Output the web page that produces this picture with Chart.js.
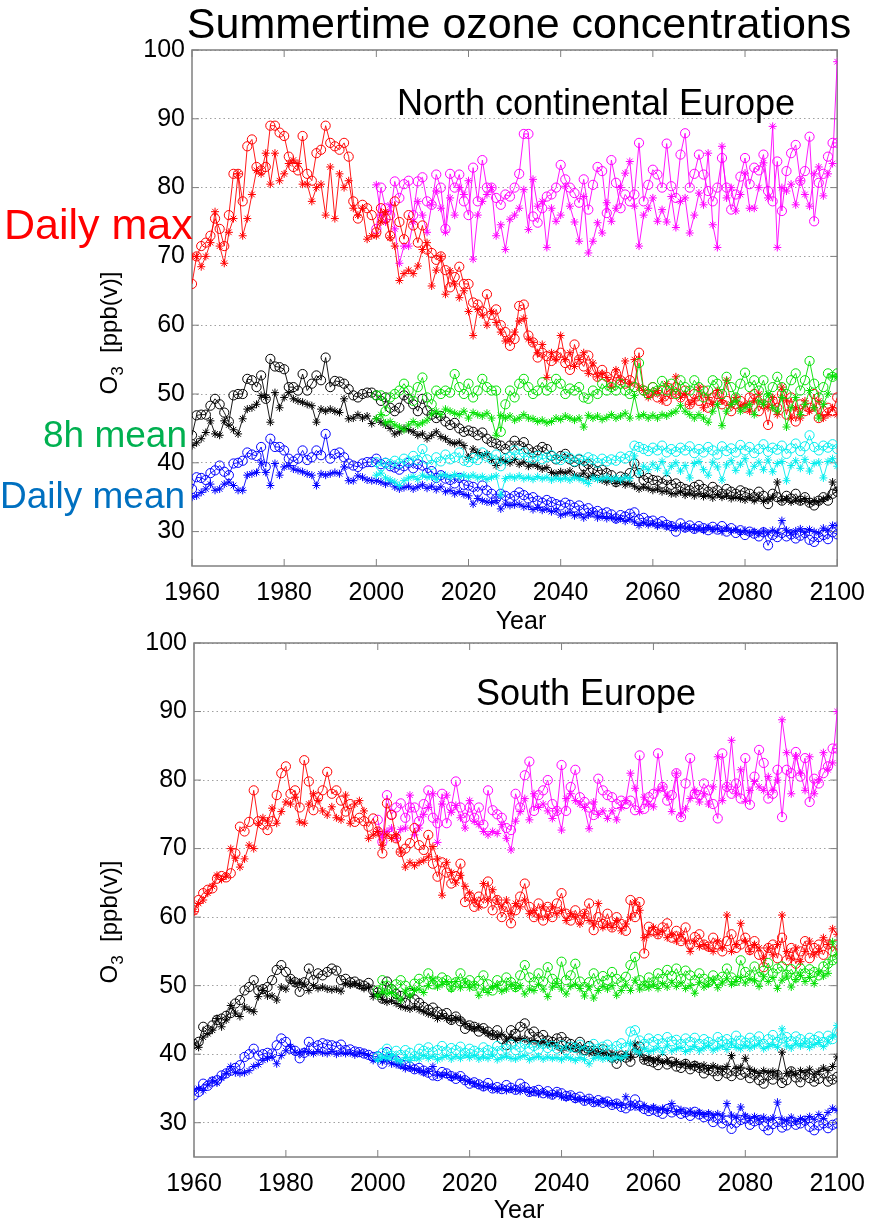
<!DOCTYPE html>
<html>
<head>
<meta charset="utf-8">
<script src="https://cdn.jsdelivr.net/npm/chart.js@4.4.1/dist/chart.umd.min.js"></script>
<style>
  html, body { margin: 0; padding: 0; background: #fff; }
  #wrap { position: relative; width: 877px; height: 1223px; }
  canvas { position: absolute; left: 0; }
  #north { top: 0; z-index: 2; }
  #south { top: 620px; z-index: 1; }
</style>
</head>
<body>
<div id="wrap">
  <canvas id="north" width="877" height="640"></canvas>
  <canvas id="south" width="877" height="603"></canvas>
</div>
<script>
// années de départ : contrôle 1960-2100, scénario 2000-2100
const CTRL_START = 1960;
const SCEN_START = 2000;
const xTicks = [1960, 1980, 2000, 2020, 2040, 2060, 2080, 2100];
const yTicks = [30, 40, 50, 60, 70, 80, 90, 100];

// ---- North continental Europe ----
const redCircN = [
  66, 70, 71.5, 72, 73, 75.5, 74, 71.5, 76, 82,
  82, 78, 86, 87, 83, 82.5, 83, 89, 89, 88,
  87.5, 84.5, 83, 82.5, 87.5, 82, 81, 85, 85.5, 89,
  86.5, 86, 85.5, 86.5, 84.5, 78, 75.5, 77.5, 77, 76,
  73.5, 77, 75.5, 73, 78, 75, 72.5, 76, 74.5, 72,
  74.5, 71, 70.5, 69.5, 70, 68, 65.5, 67, 68.5, 66,
  66, 63.3, 63, 62, 64.5, 61.5, 62.3, 60, 59, 57,
  58, 62.8, 63, 58.5, 57.5, 55.3, 56, 55.5, 54.8, 55.5,
  56, 54.5, 53.5, 57.2, 55, 54, 55.6, 53.5, 52.5, 53.5,
  52.5, 51.5, 53, 52, 51.5, 52, 51, 56, 50.5, 50,
  51, 49.5, 50.5, 49, 50, 51, 49.5, 50.5, 48.5, 50,
  49, 50.5, 48, 49.5, 50, 48.5, 49, 47.5, 48.5, 49,
  48, 49.5, 50, 47.5, 48.5, 45.5, 49, 48, 50, 47,
  49.5, 46, 48.5, 47.5, 48, 50, 46.5, 47.5, 48, 47.5,
  49.5
];
const redStarN = [
  70, 70, 68.5, 70, 72, 76.5, 71.5, 69, 73.5, 75.5,
  82, 73, 75.5, 79, 82.5, 82, 85, 80.5, 85, 81,
  82, 83.5, 84, 83.5, 80.5, 80.5, 78, 80, 80.5, 76,
  83, 75.5, 82, 80, 81, 77, 76, 77, 72.5, 73,
  73, 75, 76.5, 72.7, 71.5, 66.5, 67.5, 68, 67.5, 68.6,
  71, 72, 65.7, 68, 70, 64.5, 67.9, 66, 64, 65,
  62, 58.5, 62.3, 61.5, 60, 62, 60.4, 59, 57.7, 58,
  59, 60.6, 61, 58, 57.5, 56, 57.2, 52.4, 56, 55,
  58.5, 55, 56, 54, 55, 56, 53, 54.5, 52.5, 53,
  52.4, 51, 53.5, 52, 54.8, 51.5, 55, 51, 50.5, 49.5,
  50, 50.5, 49, 51.5, 50, 52.5, 49.5, 50, 48.5, 49,
  51, 48, 49.5, 48.5, 50.5, 49, 52, 48.5, 49.5, 48,
  48.5, 47.5, 49, 50, 48.5, 48, 49.5, 47, 51, 49,
  46.5, 48, 46.5, 49, 47.5, 48, 49, 46.5, 47, 48,
  47
];
const magCircN = [
  74, 80, 77, 76, 80.9, 78.5, 80.5, 81, 76, 80.9,
  81.5, 78, 77.5, 81.9, 80, 74, 82, 80, 81.9, 78,
  76, 82.9, 78, 84, 80, 80, 78.5, 77.5, 79, 78.7,
  80, 82, 87.8, 87.8, 75.8, 74.9, 77, 78.7, 79, 80,
  83.3, 81.2, 80, 79.2, 77.8, 81.2, 76.8, 80.4, 83, 82.4,
  76.3, 84, 80.7, 77, 79, 78, 79, 86.5, 78, 80.4,
  82.6, 81.9, 80, 86.4, 80.2, 78.5, 84.8, 87.9, 80, 82,
  84.8, 81.9, 79.5, 78, 80, 84.3, 80, 76.8, 79, 81.6,
  84.3, 80.5, 82.9, 82.5, 84.8, 79.5, 78, 83.8, 76.6, 82.4,
  85, 86.2, 81, 82.4, 87.4, 75.1, 80.7, 82, 84.5, 86.5,
  86.5
];
const magStarN = [
  80.4, 76, 75, 77.5, 74, 69, 71.5, 71.5, 75, 78,
  76, 73.5, 77.5, 79.5, 77, 73.5, 78.5, 76, 80, 79,
  81, 69.6, 76, 78, 79, 80, 73, 74.6, 71, 75.4,
  76, 77, 79.7, 73.9, 81.2, 77.3, 78, 71.3, 77, 75.1,
  76, 80.2, 77.3, 75, 72.2, 78.7, 70.5, 72.2, 74.9, 73.4,
  77.8, 75.1, 77, 80, 82.1, 83.8, 77.3, 71.5, 76, 77,
  78.5, 75.1, 76.8, 75, 78.7, 74.2, 78, 78.5, 73.4, 76,
  79.2, 77.5, 85, 74.6, 71.3, 86, 78.5, 80, 76.6, 79,
  82.1, 77, 77, 80, 83.6, 78.5, 88.9, 71.3, 80, 79.5,
  80.5, 77.5, 81, 79, 77.3, 82, 83, 78.8, 82, 83.5,
  98.3
];
const blackCircN = [
  44, 46.9, 47, 47, 48.3, 49.3, 48.5, 47.3, 46, 49.8,
  50, 50, 52.2, 52, 51, 52.7, 49.3, 55.1, 54, 53.9,
  53.6, 51, 51, 50.5, 52.9, 50.5, 51.5, 52.7, 52, 55.3,
  51, 51.9, 51.8, 51.5, 50.7, 49.8, 49.5, 50, 50.2, 50.2,
  49.8, 49, 49.5, 48, 47.5, 48, 49.8, 49.3, 48.5, 47.5,
  49.3, 47.6, 47, 46.5, 46.8, 46, 45.5, 45.8, 45, 44.5,
  44.7, 44.5, 44, 44.4, 43.5, 43, 42.8, 42.5, 42, 42.5,
  43.2, 42.5, 43, 42, 41.5, 41.8, 42.3, 42, 41, 40.5,
  41, 41.3, 40.5, 40.1, 40.5, 39.5, 39.8, 39.1, 38.8, 39,
  38.5, 38.2, 37.2, 38, 37.8, 38.5, 39.9, 38.5, 37.5, 37.8,
  37.5, 37.4, 37, 37.5, 36.8, 37, 36.5, 36.2, 36, 36.5,
  36.8, 36.2, 35.8, 36.5, 36, 35.5, 36.2, 35.8, 35.5, 36,
  35.7, 35.5, 35, 35.8, 35.2, 34, 35.5, 35, 34.5, 35.2,
  34.8, 35.5, 34.5, 35, 34.2, 33.8, 34.5, 35, 34.5, 35.5,
  35.8
];
const blackStarN = [
  42.5, 42.9, 43.5, 44.4, 46.1, 44.2, 44, 46.1, 45.5, 44.8,
  44.2, 46.4, 47.8, 48, 48.5, 49.8, 49.5, 45.9, 50.2, 48,
  49.5, 50.2, 49.3, 49, 48.8, 48.5, 48.3, 45.9, 47.8, 47.5,
  47.8, 47.5, 47.3, 49.3, 46.4, 46.5, 47, 46.5, 46.8, 45.7,
  46.4, 45.9, 45.5, 45, 44.2, 44.5, 45, 44.8, 44.5, 44,
  44.2, 43.5, 44, 44.5, 43.8, 43.5, 43, 42.8, 43, 42.5,
  40.8, 42, 41.5, 41, 41.3, 40.5, 39.6, 40.5, 40.2, 40,
  40.5, 39.8, 40.1, 39.5, 39.8, 39.5, 39.1, 39.3, 38.6, 38.4,
  38.7, 38.5, 38.8, 38.2, 38, 38.5, 37.9, 38.2, 37.7, 37.5,
  37.2, 37.5, 37, 37.3, 36.8, 37, 36.6, 36.2, 36.5, 36.3,
  36, 36.2, 35.8, 35.9, 35.5, 35.5, 35.8, 35.3, 35.6, 35.2,
  35.5, 35.1, 35.3, 34.9, 35.4, 35, 35.2, 34.8, 35, 34.8,
  34.6, 35, 34.5, 34.9, 34.4, 34.7, 35, 37.2, 34.5, 34.8,
  34.3, 34.6, 34.4, 34.8, 34.2, 34.5, 34.3, 34.7, 35, 37.2,
  36
];
const greenCircN = [
  49.8, 49.8, 47.5, 49.5, 50, 50.5, 51.5, 50.5, 49, 51,
  52.4, 49.5, 48.5, 50.5, 50, 50.5, 50.2, 52.9, 51, 50,
  51.5, 49.5, 50.5, 52.2, 51, 50.5, 50.5, 44.5, 48.5, 50.5,
  49.5, 51.5, 52.2, 51, 50, 50.5, 51.7, 50.5, 51, 52.2,
  51.5, 50, 50.8, 50.5, 51, 49.5, 49.3, 50.5, 50, 51.5,
  50.5, 51, 50.5, 51.5, 50.5, 50, 51, 54.5, 50.5, 50,
  51, 50.5, 51.9, 50.5, 51.5, 50, 52, 51, 50.5, 52,
  51, 49.5, 50.5, 52, 51.5, 50, 52.5, 51, 49.5, 51.5,
  53.1, 51, 52, 50.5, 52, 49.5, 51, 52.5, 51, 50,
  52, 53, 50.5, 52, 54.8, 51.5, 49.5, 51, 53, 52.5,
  53
];
const greenStarN = [
  46.4, 47, 45.8, 46, 45.5, 45.2, 44.8, 45.5, 46, 45.5,
  45.8, 46.2, 47.1, 47.5, 47, 47.8, 47.5, 47.2, 47, 47.5,
  46.5, 47.3, 47, 46.8, 47.2, 46.5, 44, 46.9, 46.5, 46.8,
  46.2, 46.5, 47, 46.5, 46.4, 46, 46.2, 45.8, 46, 46.5,
  46.3, 46.8, 46.5, 46.2, 46.5, 45.2, 46.9, 46.5, 46.8, 46.3,
  46.6, 47, 46.5, 46.8, 47.2, 46.5, 49.8, 46.7, 47, 46.5,
  46.9, 46.5, 47, 46.8, 47.2, 47.5, 48.3, 47.5, 47, 46.5,
  47, 46.5, 45.9, 47.5, 48.5, 45.4, 47.5, 48.5, 49, 47.5,
  48, 48.5, 47, 49, 48.5, 50, 48, 47.5, 49.5, 45.2,
  48, 49.5, 47, 48.5, 50.5, 48, 46.5, 48.5, 50, 52.6,
  52.5
];
const blueCircN = [
  36.2, 37.9, 37.8, 37.5, 38.5, 38.9, 39.6, 38.7, 38.2, 39.9,
  40, 40.3, 41.5, 41.2, 41, 42.3, 39.4, 43.5, 42.3, 42.3,
  41.8, 40.6, 40.2, 40.6, 41.8, 40.4, 40.8, 41.8, 41.1, 44.2,
  40.6, 41.3, 41.5, 40.8, 39.9, 39.6, 39.4, 39.9, 40.1, 40.1,
  40.6, 39.8, 40, 39.5, 39.3, 39, 39.5, 40, 39.2, 39.8,
  39.6, 38.5, 38.8, 37.8, 38.2, 37.7, 37.5, 37, 37.8, 36.8,
  36.7, 36.5, 35.8, 36.7, 36, 35.5, 34.8, 35.5, 35.2, 34.8,
  35.2, 35.7, 35.3, 34.8, 35, 34.5, 34.2, 34.6, 34.3, 34,
  33.8, 34.2, 33.9, 33.5, 33.8, 33.2, 33.4, 32.8, 33, 32.6,
  32.8, 32.5, 31.9, 32.4, 32.2, 32.6, 32.8, 31.8, 32, 31.5,
  31.6, 31.2, 31.5, 31, 30.8, 30, 31.2, 30.6, 30.9, 30.4,
  30.8, 30.5, 30.2, 30.7, 30.3, 30.8, 30, 30.5, 29.8, 30.2,
  29.5, 30, 29.7, 29.3, 29.9, 28, 29.5, 29.2, 29.8, 29.3,
  29.6, 29, 29.4, 29.8, 28.8, 28.5, 29.2, 29.5, 28.9, 29.9,
  29.6
];
const blueStarN = [
  35, 35.2, 35.7, 36.2, 36.9, 36, 36.2, 36.9, 37.2, 36.7,
  36, 36, 38.2, 38.4, 38.6, 40.1, 38.6, 36.7, 39.9, 38.2,
  39.4, 39.6, 39.1, 38.9, 38.7, 38.4, 38.2, 36.7, 38.4, 38.2,
  38.4, 38.6, 38.4, 39.4, 37.4, 37.4, 38.1, 37.9, 37.5, 37.4,
  37.4, 37.2, 36.9, 37.1, 36.5, 36.2, 36.4, 36.6, 36.2, 36.5,
  36.8, 36.3, 36.6, 36.1, 36.5, 35.8, 36, 35.5, 35.8, 35.4,
  35.2, 34, 34.8, 34.5, 34.3, 34.2, 34.5, 33.3, 34, 33.8,
  33.9, 34, 33.6, 33.7, 33.2, 33.5, 33.1, 33.3, 32.9, 33,
  32.4, 32.6, 32.8, 32.3, 32.5, 32, 32.4, 32.7, 32, 32.2,
  31.9, 32.1, 31.7, 31.9, 31.5, 31.8, 31.4, 30.9, 31.3, 31,
  31.2, 30.8, 31, 30.7, 30.9, 30.5, 30.8, 30.4, 30.6, 30.3,
  30.5, 30.2, 30.6, 30.3, 30.4, 30, 30.5, 30.1, 30.3, 29.9,
  30.2, 29.8, 30, 29.7, 30.1, 29.8, 30.2, 29.9, 31.6, 30.2,
  29.8, 30.1, 30.4, 29.9, 30.3, 30, 29.8, 30.5, 30.2, 30.9,
  30.9
];
const cyanCircN = [
  40.1, 39.5, 40, 39.8, 40.3, 39.9, 40.6, 40.2, 41, 40.4,
  42, 40.5, 39.7, 40.8, 40.2, 41.2, 40.5, 40.8, 41.5, 40.3,
  40.1, 40.7, 40.4, 41.5, 40.9, 40.5, 41.2, 39.5, 40.6, 40.9,
  41.8, 41.2, 41.5, 40.8, 40.6, 41, 40.5, 40.8, 41.1, 40.6,
  40.4, 40.9, 40.7, 40.2, 40.6, 40.3, 40.8, 40.5, 40, 40.6,
  40.2, 40.5, 40.3, 40.9, 40.6, 41, 42.5, 42.3, 42, 41.7,
  42.2, 41.8, 42.5, 41.5, 42, 41.6, 42.2, 41.8, 42.4, 41.4,
  42, 41.5, 42.3, 41.8, 41.2, 42.4, 41.7, 42.1, 41.5, 42.6,
  41.8, 42.3, 41.4, 42, 42.7, 41.6, 42.2, 41.9, 42.5, 41.3,
  42.1, 42.8, 41.7, 42.4, 44, 42.3, 41.8, 42.5, 42.2, 42.7,
  42
];
const cyanStarN = [
  38.2, 38.5, 37.8, 37.5, 37.2, 36.7, 37.4, 37.8, 38, 37.6,
  38.2, 37.9, 38, 37.6, 38.2, 38.2, 37.9, 38.3, 38, 38.2,
  37.9, 38.2, 37.8, 38, 37.6, 37.9, 38.1, 35.3, 37.7, 38,
  37.8, 38.1, 37.7, 37.9, 37.6, 38, 37.7, 37.9, 37.5, 37.8,
  37.6, 37.8, 37.5, 37.9, 37.7, 37.4, 37, 37.8, 37.6, 37.7,
  37.9, 37.6, 37.8, 37.5, 37.9, 37.7, 41, 38.5, 39.5, 39,
  39.8, 39.2, 40.2, 38.5, 39.5, 40, 38.8, 39.6, 37.8, 39.9,
  40.2, 39, 38.2, 40.1, 39.4, 37.5, 39.7, 40.3, 38.9, 39.8,
  40.6, 38.5, 39.5, 40.1, 39, 40.4, 38.7, 39.9, 40.2, 37.4,
  39.6, 40.3, 39.2, 40.5, 38.8, 39.9, 40.1, 37.8, 40.2, 40.6,
  39.5
];

// ---- South Europe ----
const redCircS = [
  61, 62.5, 63.5, 64, 64.2, 65.6, 66, 65.8, 66.4, 69.3,
  73.2, 72.5, 73.9, 78.5, 74, 73.5, 72.7, 74, 77.8, 81,
  82, 78, 78.5, 76, 82.9, 79.8, 75.6, 77.5, 78.5, 81.2,
  78, 78.5, 77, 75.4, 76.5, 73.9, 74.5, 74, 73.2, 74.4,
  72.5, 69.3, 76.6, 74.9, 71.5, 69.5, 70, 70.8, 73, 70.5,
  69.8, 72, 67.8, 65.9, 68, 66.5, 64.9, 66, 67.8, 62.2,
  63, 61.5, 63, 62, 65.2, 61, 62.5, 60, 61.5, 59.1,
  61, 63, 64.9, 61.5, 60, 62, 59.5, 61.5, 60, 62,
  63.5, 60.5, 59.5, 61, 59.6, 60.5, 62, 58.1, 60, 59,
  60.5, 58.5, 60, 59, 58, 62.5, 60, 62.2, 54.7, 58.6,
  58, 57.5, 58.5, 59.1, 57, 58, 56.5, 58.5, 56, 57.1,
  57.5, 56, 55.7, 57, 56, 55, 56.5, 57.5, 55.5, 56,
  57, 55.2, 56.5, 54.5, 52.7, 55.5, 56, 54, 57, 53.7,
  55.5, 53.2, 55, 56.5, 54, 55.5, 56, 54.5, 56, 55,
  56
];
const redStarS = [
  60.8, 62, 62.5, 63.5, 64.5, 66.1, 65.5, 66, 70, 68.6,
  67.3, 68.5, 70.5, 70, 73.7, 74.5, 74, 75.9, 73.7, 75.4,
  76.8, 76.5, 77.5, 73.9, 73.7, 76.5, 78, 77, 75.5, 74.9,
  76.1, 74.5, 74.2, 77.8, 73.7, 76.5, 77, 75.5, 71.5, 72,
  72.5, 70.5, 72, 71.5, 72, 69.5, 67.3, 68, 67.5, 68,
  68.3, 68.8, 70.3, 68.5, 63.2, 68, 66.5, 65, 66.1, 64.5,
  63.5, 62.5, 61.5, 64.9, 62.5, 64, 62.5, 61.5, 62.5, 60.5,
  62, 61.5, 62.5, 60.5, 61, 60, 61.5, 60, 61.5, 60.5,
  61, 59.5, 60.5, 60, 59, 60.5, 59.5, 59, 62, 58.5,
  59, 58.5, 59.5, 58, 59, 60, 62.2, 61, 57, 57.5,
  58.5, 57.5, 58, 57, 57.5, 56.5, 57.5, 56.5, 55, 56.5,
  55.7, 56, 55.5, 55, 56.5, 55.5, 60.3, 55, 56, 59.1,
  56.5, 55, 56, 55.5, 54, 55.5, 54.5, 56, 60.3, 55,
  54, 55.5, 53.5, 55, 56.5, 54.5, 55, 57, 56, 58.3,
  57.5
];
const magCircS = [
  74.2, 71, 77.8, 75, 76, 76.6, 74.5, 76, 76, 74,
  76.5, 78.5, 74.5, 73.7, 78, 73.7, 76.1, 79.8, 76, 74.5,
  76, 74.5, 76, 73.5, 78.5, 75.6, 75, 74.5, 73, 72.7,
  78, 76, 80.7, 82.7, 75.5, 77.8, 78.5, 80, 76.5, 75.5,
  82.2, 75.5, 79, 81.5, 77.5, 76.8, 76, 74.9, 80.2, 78.5,
  77.8, 77.5, 76.5, 77, 76.5, 77, 75.6, 83.6, 75.8, 77.5,
  78, 83.9, 79, 77, 77.8, 81, 74.6, 79.5, 83.2, 78,
  77.8, 79.5, 78.5, 76.5, 74.4, 83.9, 79, 78, 79.5, 77.3,
  83.2, 76.4, 80.5, 84.4, 82.5, 77.3, 78, 81.5, 74.6, 81.5,
  81, 84.1, 80.5, 83.2, 76.8, 80.2, 79.5, 81, 82, 84.6,
  84.6
];
const magStarS = [
  72.5, 72, 72.5, 73, 71.5, 72.8, 73, 77.8, 72, 73,
  75, 76, 78, 70.9, 76.5, 77.8, 75.3, 76.3, 74.5, 73,
  77, 74, 73.5, 72.5, 72, 72.5, 72.2, 73.5, 71.5, 69.8,
  74, 75.4, 77.3, 74.2, 78, 76, 76.5, 75.5, 74.4, 75.5,
  72.7, 77.3, 78, 77, 76.5, 76, 72.9, 76.8, 75, 75.5,
  74.4, 75.5, 74.2, 76, 77, 81, 78.8, 75.4, 77.5, 76.5,
  76.1, 78.5, 79, 77.8, 75.4, 81, 74.9, 75.8, 77.3, 78.5,
  76.8, 78, 76.5, 79, 83.4, 77, 79, 85.8, 78, 81.5,
  76.9, 78.5, 79.8, 79, 78.5, 80.5, 78.5, 80, 88.8, 84,
  78, 83.5, 81, 78.5, 83.4, 78, 80, 84, 81.5, 82.5,
  90
];
const blackCircS = [
  41.5, 41.8, 44, 43.5, 44.2, 45, 45.2, 45.6, 46, 47.4,
  47.9, 49.3, 49.8, 50.8, 49.3, 49.5, 49.8, 50.8, 52.3, 53,
  52, 51, 50.5, 49.1, 50.5, 52.5, 50.8, 51.8, 51.5, 52,
  52.5, 52.2, 50.8, 51, 50.5, 50.6, 50.2, 50, 50.4, 49.3,
  49, 48.1, 50.6, 49.5, 48.8, 48.5, 47.5, 48.9, 48, 47.5,
  46.9, 46.5, 46.8, 46.2, 45.8, 46, 45, 45.5, 44.8, 43.7,
  44.2, 44, 43.3, 43.8, 43.3, 42.8, 43.5, 42.2, 41.3, 43.5,
  43, 44, 44.5, 43, 43.3, 42.5, 42.8, 42, 41.8, 42.3,
  42.5, 41.8, 41.5, 41, 41.8, 40.6, 41.2, 40.5, 40.2, 40.7,
  40, 39.5, 38.6, 39.8, 39.5, 38.9, 40.2, 41.1, 39.2, 39,
  38.8, 38.4, 39.3, 38.5, 38.9, 38.2, 38, 38.6, 37.8, 38.3,
  38, 37.2, 37.7, 37.5, 36.8, 37.6, 37.2, 36.8, 37.5, 37,
  37.3, 36.5, 37, 36.2, 35.7, 36.9, 36.3, 37, 35.8, 36.2,
  37.5, 36.6, 35.9, 37, 36.5, 36, 36.4, 37.2, 36, 36.3,
  36.7
];
const blackStarS = [
  41.5, 41, 42.5, 43, 43.5, 45.2, 44, 45, 47.1, 46,
  45.5, 46.9, 46.5, 46.2, 48.4, 49.3, 48.5, 48.5, 47.9, 49.8,
  49.5, 50.8, 50.3, 50.5, 50.2, 49.3, 50, 49.6, 49.8, 49.5,
  49.4, 49.5, 49.2, 50.3, 50.1, 50.3, 50, 49.6, 49.8, 48.4,
  48.8, 48, 47.6, 47.8, 47.4, 47, 46.8, 46.6, 46.9, 46.5,
  46.2, 45.9, 45.7, 45.2, 45.6, 45.2, 44.9, 45.3, 45, 44.5,
  44, 43.7, 44, 43.5, 43, 42.8, 42.5, 42.9, 42.2, 42.5,
  42, 42.3, 42.2, 41.8, 42, 41.5, 41.8, 41.4, 41.7, 41.2,
  40.6, 41, 40.8, 41, 40.5, 40.8, 40.2, 40.5, 40.1, 40.3,
  39.8, 40.1, 39.9, 39.6, 40, 39.6, 41.5, 40, 39.2, 39.5,
  39.1, 39.3, 38.8, 39, 38.6, 38.9, 38.5, 38.7, 38.2, 38.5,
  38.1, 38.4, 37.9, 38.3, 38, 37.8, 38.2, 39.8, 37.9, 38.1,
  39.4, 37.8, 37.5, 37.2, 37.6, 37.3, 37.5, 37.1, 40.3, 37.2,
  37.5, 37, 37.6, 37.3, 37.8, 37.1, 37.5, 38, 37.6, 38.2,
  39.6
];
const greenCircS = [
  49.3, 50.8, 50, 49.5, 50.2, 50.8, 50, 49.2, 50.3, 51,
  50.5, 51.8, 50.2, 50.6, 51.2, 50.8, 49.8, 50.5, 51.8, 50.4,
  50.8, 50, 50.7, 51.5, 50.2, 49.3, 50.8, 50, 51.2, 50.5,
  49.8, 51.5, 53, 51.2, 50.5, 51.8, 50.6, 52.7, 51, 50.4,
  53.5, 50.8, 51.5, 53.2, 50.6, 49.8, 50.5, 51.8, 50.2, 51.4,
  50.8, 52, 51, 50.5, 51.3, 53, 54.2, 50.8, 50, 51.2,
  50.5, 51.8, 51, 52.3, 51.4, 52.5, 51, 52.2, 51.5, 50.8,
  51.8, 51, 50.5, 51.5, 50.8, 51.3, 52.5, 51.2, 50.7, 53.7,
  52, 51.5, 52.8, 51.3, 52.2, 53.3, 51.8, 52.5, 52.8, 51.6,
  52.4, 51.2, 52.5, 51.8, 52.4, 52, 51.5, 52.8, 53.2, 53.7,
  54
];
const greenStarS = [
  48.5, 49.2, 48.8, 49, 48.5, 47.9, 49.2, 48.5, 49.3, 49.5,
  49, 50, 51, 49.8, 50.2, 50.6, 49.5, 50.6, 49.7, 50.4,
  49.7, 50.1, 48.6, 49.5, 49, 49.8, 50, 49.2, 49.5, 50.2,
  49.6, 50, 48.8, 49.5, 49.3, 50.2, 49.5, 48.4, 49.8, 50.3,
  49.5, 48.8, 49.9, 50.2, 49.6, 48.5, 49.8, 48.2, 49.3, 49.9,
  49.5, 50, 48.6, 49.3, 50.1, 49.3, 50.8, 49.5, 50.1, 49.7,
  50.2, 49.6, 50.3, 49.8, 50.5, 49.9, 50.4, 49.6, 50, 48.9,
  50.5, 49.8, 50.2, 50.8, 49.7, 50.4, 51, 50.2, 50.6, 51.2,
  50.4, 51, 50.7, 49.9, 51.3, 50.6, 51.2, 49.6, 50.8, 51.4,
  49.8, 50.9, 51.5, 50.6, 51.2, 50.3, 52, 51.4, 51.8, 56.4,
  54.5
];
const blueCircS = [
  34, 34.5, 35.7, 35.4, 36, 36.2, 36.9, 37.2, 37.6, 38,
  38.4, 39.6, 40, 40.8, 39.8, 40, 40.2, 40.1, 41.3, 42.3,
  41.8, 40.8, 40.5, 39.4, 40.2, 41.8, 41, 41.3, 41.6, 41.4,
  41.3, 41.1, 41.4, 40.6, 40.7, 40.4, 40.3, 40.1, 39.9, 39.6,
  39.7, 38.6, 40.3, 39.4, 39.1, 38.6, 38.4, 38.2, 37.8, 38,
  37.6, 37.3, 36.9, 36.8, 37.4, 37.2, 36.8, 36.4, 36.8, 36.2,
  35.7, 35.9, 35.6, 35.3, 35.8, 35, 35.2, 34.9, 35.5, 35.1,
  34.8, 35.7, 35.2, 34.5, 34.6, 34.8, 34.3, 34.6, 34.1, 34.5,
  34.3, 33.9, 34, 33.6, 33.8, 33.2, 33.5, 33, 33.3, 32.9,
  33.1, 32.6, 32.8, 32.3, 32.1, 32.5, 33.4, 32.5, 32, 31.7,
  31.9, 31.6, 31.3, 32, 31.5, 31.8, 31.3, 31.5, 31, 31.6,
  31.2, 30.8, 31, 30.1, 30.6, 29.9, 30.3, 29.1, 30, 30.4,
  30.6, 29.7, 30.2, 30.4, 29.5, 28.9, 29.8, 30.1, 29.3, 29.6,
  30.2, 29.7, 29.9, 30.3, 29.4, 28.9, 29.6, 29.9, 29.2, 29.7,
  29.9
];
const blueStarS = [
  34.8, 35, 34.7, 35.5, 36.2, 35.8, 36.5, 37.2, 38.2, 37.3,
  37.2, 37.3, 37.6, 38.2, 38.5, 39.1, 39.4, 39.6, 38.6, 39.8,
  40.5, 41.1, 40.3, 40.2, 40.4, 40.3, 40.1, 40.4, 40.2, 40.1,
  40.4, 40, 40.2, 40.1, 40.2, 39.9, 40.2, 40.1, 39.8, 39.1,
  39.2, 38.9, 39.1, 38.6, 38.5, 38.3, 37.9, 38, 37.8, 37.6,
  37.3, 37.5, 38.2, 37, 36.9, 37.1, 36.6, 36.8, 36.5, 36.2,
  36, 35.7, 35.5, 35.2, 35.3, 35, 34.8, 35, 34.7, 34.9,
  34.8, 34.6, 34.9, 34.4, 34.6, 34.2, 34.5, 34.1, 34, 34.3,
  33.8, 33.6, 33.9, 33.4, 33.5, 33.2, 33.4, 33, 32.9, 33.2,
  32.9, 32.7, 32.8, 32.5, 33.8, 32.6, 32.3, 32.2, 32.5, 32,
  32.3, 31.9, 32.1, 31.8, 32.8, 31.6, 31.9, 31.4, 31.7, 31.3,
  31.5, 31.2, 31.4, 31.1, 31.3, 31, 32.8, 31.1, 30.8, 32.3,
  31, 30.6, 30.9, 30.5, 30.8, 30.4, 30.7, 33, 30.5, 30.3,
  30.8, 30.2, 30.6, 30.4, 30.9, 30.5, 31.2, 30.6, 31.5, 32.1,
  31.8
];
const cyanCircS = [
  39.6, 40.2, 40.8, 39.8, 40.5, 39.9, 40.6, 40.2, 39.7, 40.8,
  40.5, 41, 40.3, 40.6, 41.2, 40.4, 40.9, 40.6, 41.1, 40.2,
  40.8, 40.5, 40.2, 41, 40.6, 40.3, 41.2, 40.5, 40.8, 41.4,
  40.6, 41, 41.5, 40.8, 41.2, 40.7, 41.5, 40.9, 41.2, 40.8,
  41.3, 40.6, 41.1, 40.9, 41.4, 40.5, 41, 41.5, 40.8, 41.1,
  41.4, 40.7, 41.2, 41.6, 41, 43.3, 43.5, 42, 41.5, 42.3,
  41.8, 42.2, 41.6, 42.5, 41.9, 42.1, 41.5, 42.3, 41.8, 42.4,
  41.5, 42.2, 41.8, 41.4, 42.5, 41.9, 42.2, 41.6, 42.7, 42,
  41.7, 42.4, 41.9, 42.6, 41.5, 42.2, 42.8, 41.8, 42.3, 42.5,
  41.9, 42.6, 42.2, 41.7, 42.4, 42.1, 42.6, 41.8, 42.7, 42.2,
  43.3
];
const cyanStarS = [
  39.2, 39.6, 39.4, 39.8, 39.2, 38.9, 39.5, 39.1, 39.6, 39.3,
  39.8, 39.4, 39.7, 39.2, 39.5, 39.8, 39.3, 39.7, 39.4, 39.9,
  39.5, 39.8, 39.3, 39.6, 39.4, 39.9, 39.2, 39.5, 39.7, 39.4,
  39.3, 39.6, 39.8, 39.2, 39.5, 39.7, 39.3, 39.6, 39.4, 39.5,
  39.2, 39.6, 39.4, 39.1, 39.5, 39.2, 38.6, 39.4, 39.6, 39.3,
  39.5, 39.2, 39.6, 39.4, 39.8, 41.6, 40.5, 40.2, 40.8, 40.4,
  40.6, 40.9, 40.3, 41.2, 40.5, 40.8, 41, 40.4, 40.7, 41.1,
  40.5, 40.9, 41.3, 40.6, 40.9, 41.2, 40.7, 41.5, 41, 40.8,
  41.3, 40.9, 41.2, 41.5, 40.8, 41.1, 41.4, 41, 43.7, 41.2,
  40.9, 41.5, 41.2, 41.6, 41, 41.4, 41.7, 41.1, 41.8, 42.5,
  44.2
];

const COL = {
  red: '#ff0000', magenta: '#ff00ff', black: '#000000',
  green: '#00e000', blue: '#0000ff', cyan: '#00eeee'
};

Chart.defaults.font.family = "'Liberation Sans', Arial, Helvetica, sans-serif";
Chart.defaults.color = '#000';

function series(vals, start, color, marker) {
  return {
    data: vals.map((v, i) => ({ x: start + i, y: v })),
    borderColor: color,
    borderWidth: 0.9,
    pointStyle: marker,
    pointRadius: marker === 'circle' ? 4.6 : 4,
    pointBorderColor: color,
    pointBackgroundColor: 'rgba(0,0,0,0)',
    pointBorderWidth: 1,
    tension: 0,
    fill: false
  };
}

// le premier jeu est dessiné au-dessus
function buildSets(p) {
  return [
    series(p.cyanS, SCEN_START, COL.cyan, 'star'),
    series(p.cyanC, SCEN_START, COL.cyan, 'circle'),
    series(p.greenS, SCEN_START, COL.green, 'star'),
    series(p.greenC, SCEN_START, COL.green, 'circle'),
    series(p.redS, CTRL_START, COL.red, 'star'),
    series(p.redC, CTRL_START, COL.red, 'circle'),
    series(p.magS, SCEN_START, COL.magenta, 'star'),
    series(p.magC, SCEN_START, COL.magenta, 'circle'),
    series(p.blueS, CTRL_START, COL.blue, 'star'),
    series(p.blueC, CTRL_START, COL.blue, 'circle'),
    series(p.blackS, CTRL_START, COL.black, 'star'),
    series(p.blackC, CTRL_START, COL.black, 'circle')
  ];
}

// cadre gris + petites graduations vers l'intérieur (style MATLAB)
const frame = {
  id: 'frame',
  beforeDatasetsDraw(chart) {
    const { ctx, chartArea: a, scales: { x, y } } = chart;
    ctx.save();
    ctx.strokeStyle = '#808080';
    ctx.lineWidth = 1.5;
    ctx.strokeRect(a.left, a.top, a.right - a.left, a.bottom - a.top);
    ctx.lineWidth = 1;
    ctx.beginPath();
    xTicks.forEach(v => {
      const px = x.getPixelForValue(v);
      ctx.moveTo(px, a.bottom); ctx.lineTo(px, a.bottom - 7);
      ctx.moveTo(px, a.top); ctx.lineTo(px, a.top + 7);
    });
    yTicks.forEach(v => {
      const py = y.getPixelForValue(v);
      ctx.moveTo(a.left, py); ctx.lineTo(a.left + 7, py);
      ctx.moveTo(a.right, py); ctx.lineTo(a.right - 7, py);
    });
    ctx.stroke();
    ctx.restore();
  }
};

// textes : titres, étiquettes colorées, titre de l'axe y avec indice
const texts = {
  id: 'texts',
  afterDraw(chart, args, opts) {
    const ctx = chart.ctx;
    const fam = Chart.defaults.font.family;
    ctx.save();
    (opts.items || []).forEach(t => {
      ctx.font = t.size + 'px ' + fam;
      ctx.fillStyle = t.color || '#000';
      ctx.textAlign = t.align || 'center';
      ctx.textBaseline = 'alphabetic';
      ctx.fillText(t.text, t.x, t.y);
    });
    if (opts.yTitle) {
      const { x, y } = opts.yTitle;
      ctx.translate(x, y);
      ctx.rotate(-Math.PI / 2);
      ctx.textAlign = 'left';
      ctx.textBaseline = 'middle';
      const big = '24px ' + fam, small = '17px ' + fam;
      ctx.font = big; const wO = ctx.measureText('O').width;
      ctx.font = small; const w3 = ctx.measureText('3').width;
      ctx.font = big; const wR = ctx.measureText('  [ppb(v)]').width;
      let cx = -(wO + w3 + wR) / 2;
      ctx.fillStyle = '#000';
      ctx.font = big; ctx.fillText('O', cx, 0); cx += wO;
      ctx.font = small; ctx.fillText('3', cx, 8); cx += w3;
      ctx.font = big; ctx.fillText('  [ppb(v)]', cx, 0);
    }
    ctx.restore();
  }
};

function makeChart(id, p, geo, items, yTitle) {
  return new Chart(document.getElementById(id), {
    type: 'line',
    data: { datasets: buildSets(p) },
    plugins: [frame, texts],
    options: {
      responsive: false,
      animation: false,
      devicePixelRatio: 1,
      layout: { padding: { top: geo.top, right: geo.right, left: 0, bottom: 0 } },
      plugins: {
        legend: { display: false },
        tooltip: { enabled: false },
        texts: { items: items, yTitle: yTitle }
      },
      scales: {
        x: {
          type: 'linear',
          min: 1960, max: 2100,
          grid: { display: false, drawTicks: false },
          border: { display: false },
          afterBuildTicks: s => { s.ticks = xTicks.map(v => ({ value: v })); },
          afterFit: s => { s.height = geo.xh; },
          ticks: { font: { size: 25 }, padding: 12, maxRotation: 0, callback: v => String(v) }
        },
        y: {
          type: 'linear',
          min: 25, max: 100,
          grid: { color: '#a0a0a0', lineWidth: 1, drawTicks: false },
          border: { display: false, dash: [1.5, 3] },
          afterBuildTicks: s => { s.ticks = yTicks.map(v => ({ value: v })); },
          afterFit: s => { s.width = geo.yw; },
          ticks: { font: { size: 25 }, padding: 7, callback: v => String(v) }
        }
      }
    }
  });
}

makeChart('north', {
  redC: redCircN, redS: redStarN, magC: magCircN, magS: magStarN,
  blackC: blackCircN, blackS: blackStarN, greenC: greenCircN, greenS: greenStarN,
  blueC: blueCircN, blueS: blueStarN, cyanC: cyanCircN, cyanS: cyanStarN
}, { top: 50, right: 29, xh: 74, yw: 192 }, [
  { text: 'Summertime ozone concentrations', x: 519, y: 38, size: 43 },
  { text: 'North continental Europe', x: 596, y: 115, size: 36 },
  { text: 'Daily max', x: 4, y: 239, size: 43, color: '#ff0000', align: 'left' },
  { text: '8h mean', x: 187, y: 447, size: 37, color: '#00b050', align: 'right' },
  { text: 'Daily mean', x: 0, y: 508, size: 37, color: '#0070c0', align: 'left' },
  { text: 'Year', x: 521, y: 629, size: 25 }
], { x: 110, y: 333 });

makeChart('south', {
  redC: redCircS, redS: redStarS, magC: magCircS, magS: magStarS,
  blackC: blackCircS, blackS: blackStarS, greenC: greenCircS, greenS: greenStarS,
  blueC: blueCircS, blueS: blueStarS, cyanC: cyanCircS, cyanS: cyanStarS
}, { top: 23, right: 28, xh: 66, yw: 194 }, [
  { text: 'South Europe', x: 586, y: 85, size: 36 },
  { text: 'Year', x: 519, y: 598, size: 25 }
], { x: 110, y: 302 });
</script>
</body>
</html>
